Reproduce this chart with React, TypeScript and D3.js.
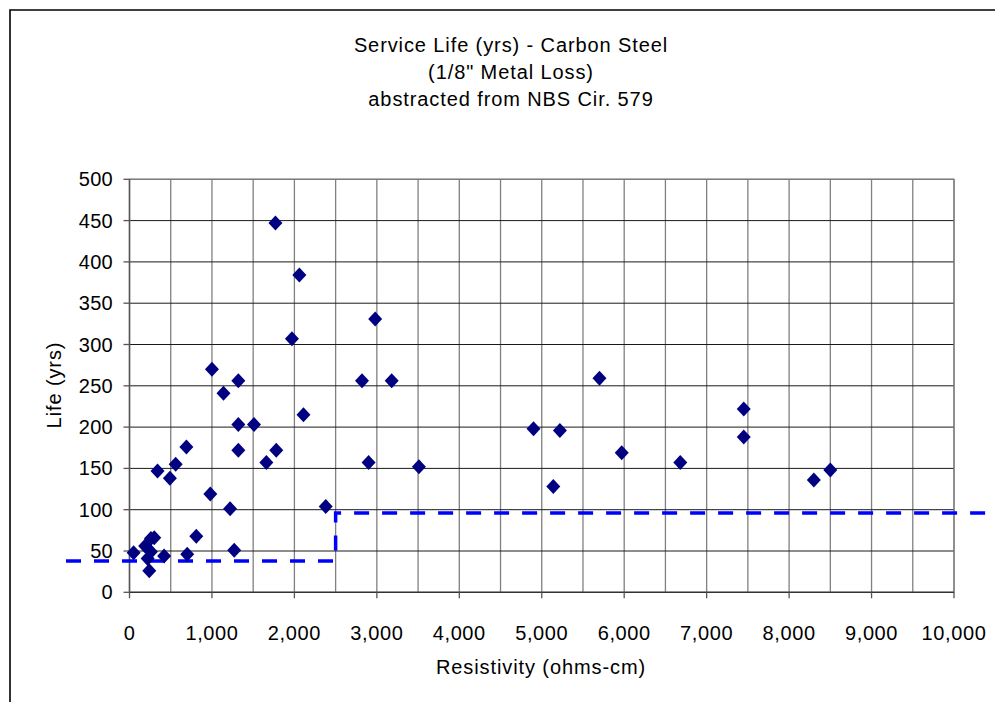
import React from "react";
import * as d3 from "d3";

const resistivity = [
  50, 190, 260, 300, 260, 220, 240, 420, 340, 490, 560, 690, 700, 810, 980,
  1000, 1140, 1220, 1270, 1320, 1320, 1320, 1510, 1660, 1780, 1770, 2060, 1970,
  2980, 2110, 2380, 2820, 2900, 3180, 3510, 4900, 5140, 5220, 5700, 5970, 6680,
  7450, 7450, 8300, 8500,
];
const lifeYears = [
  48, 56, 65, 66, 49, 41, 26, 44, 147, 138, 155, 176, 46, 68, 119,
  270, 241, 101, 51, 256, 203, 172, 203, 157, 172, 447, 384, 307,
  331, 215, 104, 256, 157, 256, 152, 198, 128, 196, 259, 169, 157,
  222, 188, 136, 148,
];
const limitX = [-770, 2500, 2500, 10600];
const limitY = [38, 38, 96, 96];

const xTicks = [0, 1000, 2000, 3000, 4000, 5000, 6000, 7000, 8000, 9000, 10000];
const xGrid = d3.range(0, 10001, 500);
const yTicks = [0, 50, 100, 150, 200, 250, 300, 350, 400, 450, 500];

const titleLines = [
  "Service Life (yrs) - Carbon Steel",
  '(1/8" Metal Loss)',
  "abstracted from NBS Cir. 579",
];

const W = 995;
const H = 702;
const left = 129.5;
const right = 954;
const top = 179.3;
const bottom = 592.3;
const FONT = "'Liberation Sans', Arial, sans-serif";

export default function App() {
  const x = d3.scaleLinear().domain([0, 10000]).range([left, right]);
  const y = d3.scaleLinear().domain([0, 500]).range([bottom, top]);
  const fmt = d3.format(",");
  const pts = resistivity.map((r, i) => ({ r, l: lifeYears[i] }));
  const limit = limitX.map((v, i) => [v, limitY[i]] as [number, number]);
  const line = d3
    .line<[number, number]>()
    .x((d) => x(d[0]))
    .y((d) => y(d[1]));
  const diamond = "M0,-7.5L7,0L0,7.5L-7,0Z";

  return (
    <svg
      width={W}
      height={H}
      style={{ position: "absolute", left: 0, top: 0, background: "#fff" }}
      fontFamily={FONT}
    >
      <rect x={0} y={0} width={W} height={H} fill="#fff" />
      {/* outer frame */}
      <path d={`M10,${H + 5}V10H${W + 5}`} fill="none" stroke="#000" strokeWidth={1.6} />

      {/* title */}
      {titleLines.map((t, i) => (
        <text key={i} x={511} y={52 + i * 27} textAnchor="middle" fontSize={20} letterSpacing={0.9} fill="#000">
          {t}
        </text>
      ))}

      {/* vertical gridlines */}
      {xGrid.map((v) => (
        <line key={"vx" + v} x1={x(v)} x2={x(v)} y1={top} y2={bottom} stroke="#808080" strokeWidth={1.3} />
      ))}
      {/* horizontal gridlines */}
      {yTicks.map((v) => (
        <line key={"hy" + v} x1={left} x2={right} y1={y(v)} y2={y(v)} stroke="#1a1a1a" strokeWidth={1} />
      ))}
      {/* plot frame */}
      <rect x={left} y={top} width={right - left} height={bottom - top} fill="none" stroke="#808080" strokeWidth={1.3} />

      {/* axes */}
      <line x1={left} x2={right} y1={bottom} y2={bottom} stroke="#333" strokeWidth={1.3} />
      <line x1={left} x2={left} y1={top} y2={bottom} stroke="#555" strokeWidth={1.3} />
      {xTicks.map((v) => (
        <g key={"xt" + v}>
          <line x1={x(v)} x2={x(v)} y1={bottom} y2={bottom + 6} stroke="#555" strokeWidth={1.3} />
          <text x={x(v)} y={640} textAnchor="middle" fontSize={20} letterSpacing={0.6} fill="#000">
            {fmt(v)}
          </text>
        </g>
      ))}
      {yTicks.map((v) => (
        <g key={"yt" + v}>
          <line x1={left - 6} x2={left} y1={y(v)} y2={y(v)} stroke="#555" strokeWidth={1.3} />
          <text x={113} y={y(v) + 7} textAnchor="end" fontSize={20} letterSpacing={0.3} fill="#000">
            {v}
          </text>
        </g>
      ))}

      {/* axis titles */}
      <text x={541} y={674} textAnchor="middle" fontSize={20} letterSpacing={0.9} fill="#000">
        Resistivity (ohms-cm)
      </text>
      <text
        transform={`translate(61,385) rotate(-90)`}
        textAnchor="middle"
        fontSize={20}
        letterSpacing={0.9}
        fill="#000"
      >
        Life (yrs)
      </text>

      {/* limit line */}
      <path d={line(limit) || ""} fill="none" stroke="#0000ff" strokeWidth={3.5} strokeDasharray="15,13" />

      {/* points */}
      {pts.map((p, i) => (
        <path key={i} d={diamond} transform={`translate(${x(p.r)},${y(p.l)})`} fill="#000080" />
      ))}
    </svg>
  );
}
